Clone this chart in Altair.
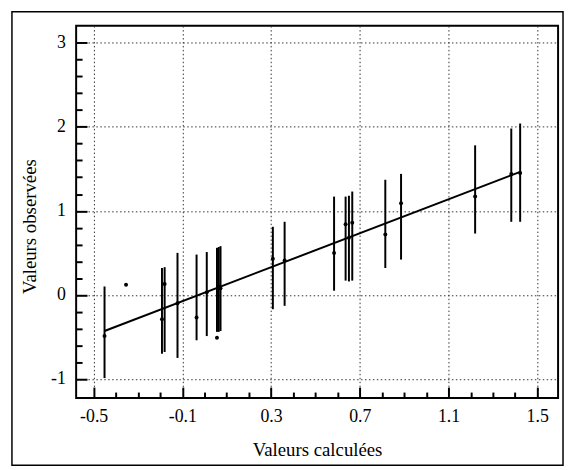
import altair as alt
import pandas as pd

# Error bars (prediction intervals)
bar_x = [-0.451, -0.192, -0.180, -0.122, -0.036, 0.010, 0.056, 0.064, 0.072,
         0.308, 0.361, 0.584, 0.636, 0.651, 0.666, 0.815, 0.886, 1.220, 1.383, 1.423]
bar_low = [-0.99, -0.70, -0.68, -0.75, -0.54, -0.49, -0.44, -0.44, -0.43,
           -0.17, -0.13, 0.05, 0.17, 0.16, 0.17, 0.32, 0.42, 0.73, 0.87, 0.87]
bar_high = [0.10, 0.32, 0.33, 0.50, 0.48, 0.51, 0.56, 0.57, 0.58,
            0.81, 0.87, 1.17, 1.17, 1.18, 1.23, 1.37, 1.44, 1.78, 1.98, 2.04]

# Observed points
obs_x = [-0.451, -0.354, -0.192, -0.180, -0.122, -0.036, 0.010, 0.056, 0.064, 0.072,
         0.308, 0.361, 0.584, 0.636, 0.651, 0.666, 0.815, 0.886, 1.220, 1.383, 1.423]
obs_y = [-0.49, 0.12, -0.29, 0.13, -0.10, -0.27, 0.03, -0.51, 0.10, 0.08,
         0.43, 0.41, 0.50, 0.84, 0.68, 0.86, 0.72, 1.09, 1.17, 1.44, 1.45]

# Fitted line
line_x = [-0.451, 1.423]
line_y = [-0.43, 1.465]

# Axis ticks
x_major = [-0.5, -0.1, 0.3, 0.7, 1.1, 1.5]
x_minor = [-0.4, -0.3, -0.2, 0.0, 0.1, 0.2, 0.4, 0.5, 0.6, 0.8, 0.9, 1.0, 1.2, 1.3, 1.4]
y_major = [-1, 0, 1, 2, 3]
y_minor = [-0.8, -0.6, -0.4, -0.2, 0.2, 0.4, 0.6, 0.8, 1.2, 1.4, 1.6, 1.8,
           2.2, 2.4, 2.6, 2.8]

x_title = "Valeurs calculées"
y_title = "Valeurs observées"

FONT = "Liberation Serif"
xs = alt.Scale(domain=[-0.579, 1.594], nice=False, zero=False)
ys = alt.Scale(domain=[-1.227, 3.204], nice=False, zero=False)

bars = pd.DataFrame({"x": bar_x, "lo": bar_low, "hi": bar_high})
pts = pd.DataFrame({"x": obs_x, "y": obs_y})
fit = pd.DataFrame({"x": line_x, "y": line_y})

neg_fmt = "datum.value < 0 ? '-' + format(-datum.value, '.1f') : format(datum.value, '.1f')"
neg_int = "datum.value < 0 ? '-' + format(-datum.value, 'd') : format(datum.value, 'd')"

grid_x = alt.Axis(orient="bottom", values=x_major, grid=True, gridColor="#333333",
                  gridDash=[1.5, 2.5], gridWidth=1, ticks=False, domain=False,
                  labelFont=FONT, labelFontSize=18, labelColor="black", labelPadding=10,
                  labelExpr=neg_fmt, title=x_title, titleFont=FONT, titleFontSize=19,
                  titleFontWeight="normal", titleColor="black", titlePadding=15)
grid_y = alt.Axis(orient="left", values=y_major, grid=True, gridColor="#333333",
                  gridDash=[1.5, 2.5], gridWidth=1, ticks=False, domain=False,
                  labelFont=FONT, labelFontSize=18, labelColor="black", labelPadding=11,
                  labelExpr=neg_int, title=y_title, titleFont=FONT, titleFontSize=19,
                  titleFontWeight="normal", titleColor="black", titlePadding=11,
                  titleY=203)


def tick_axis(orient, vals, size):
    return alt.Axis(orient=orient, values=vals, grid=False, domain=False, labels=False,
                    ticks=True, tickSize=size, tickWidth=2, tickColor="black",
                    offset=-size, title=None)


bar_layer = alt.Chart(bars).mark_rule(color="black", strokeWidth=2).encode(
    x=alt.X("x:Q", scale=xs, axis=grid_x),
    y=alt.Y("lo:Q", scale=ys, axis=grid_y),
    y2="hi:Q",
)

pt_layer = alt.Chart(pts).mark_circle(color="black", size=16, opacity=1).encode(
    x=alt.X("x:Q", scale=xs, axis=tick_axis("bottom", x_major, 11)),
    y=alt.Y("y:Q", scale=ys, axis=tick_axis("left", y_major, 11)),
)

line_layer = alt.Chart(fit).mark_line(color="black", strokeWidth=2).encode(
    x=alt.X("x:Q", scale=xs, axis=tick_axis("bottom", x_minor, 6)),
    y=alt.Y("y:Q", scale=ys, axis=tick_axis("left", y_minor, 6)),
)

border = alt.Chart(alt.Data(values=[{"a": 1}])).mark_rect(
    fillOpacity=0, stroke="black", strokeWidth=1.5
).encode(
    x=alt.value(-65), x2=alt.value(493), y=alt.value(-14), y2=alt.value(445)
)

chart = alt.layer(bar_layer, line_layer, pt_layer, border).resolve_axis(
    x="independent", y="independent"
).properties(
    width=488, height=377,
    padding={"left": 3, "top": 0, "right": 0, "bottom": 0},
).configure_view(stroke="black", strokeWidth=2)

chart.save("out.html", embed_options={"renderer": "svg", "actions": False})
